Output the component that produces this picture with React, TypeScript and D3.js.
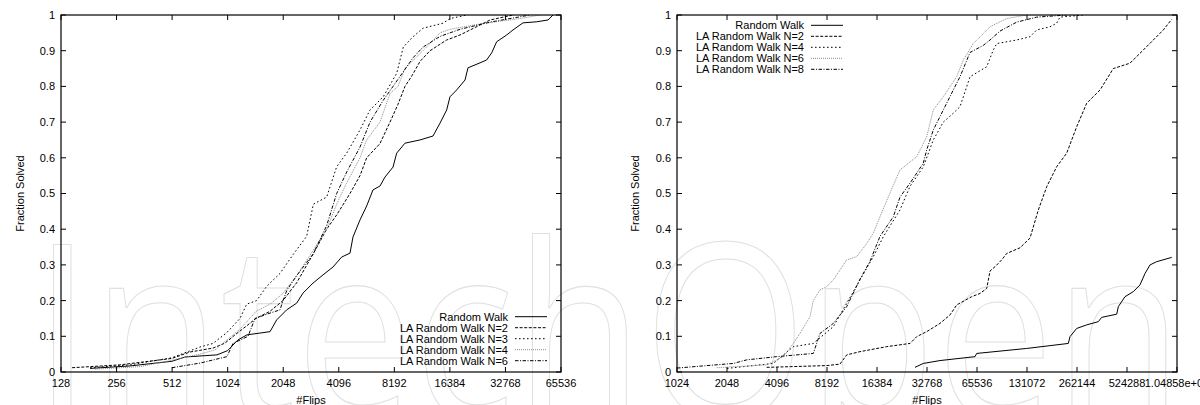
import React from "react";
import * as d3 from "d3";

type Pt = [number, number];

// ---------- axis ticks ----------
const leftTicksX = [128, 256, 512, 1024, 2048, 4096, 8192, 16384, 32768, 65536];
const leftTickLabels = ["128", "256", "512", "1024", "2048", "4096", "8192", "16384", "32768", "65536"];
const rightTicksX = [1024, 2048, 4096, 8192, 16384, 32768, 65536, 131072, 262144, 524288, 1048576];
const rightTickLabels = ["1024", "2048", "4096", "8192", "16384", "32768", "65536", "131072", "262144", "524288", "1.04858e+06"];
const yTicks = [0, 0.1, 0.2, 0.3, 0.4, 0.5, 0.6, 0.7, 0.8, 0.9, 1];
const yTickLabels = ["0", "0.1", "0.2", "0.3", "0.4", "0.5", "0.6", "0.7", "0.8", "0.9", "1"];

const leftNames = ["Random Walk", "LA Random Walk N=2", "LA Random Walk N=3", "LA Random Walk N=4", "LA Random Walk N=6"];
const rightNames = ["Random Walk", "LA Random Walk N=2", "LA Random Walk N=4", "LA Random Walk N=6", "LA Random Walk N=8"];

// ---------- left panel data: [flips, fraction solved] ----------
const leftRandomWalk: Pt[] = [
  [184, 0.01], [303, 0.017], [511, 0.03], [601, 0.042], [896, 0.048], [1024, 0.06], [1165, 0.09], [1303, 0.104],
  [1737, 0.113], [1888, 0.146], [2138, 0.174], [2423, 0.193], [2621, 0.221], [2970, 0.249], [3364, 0.272],
  [3810, 0.294], [4247, 0.322], [4711, 0.333], [4890, 0.378], [5338, 0.426], [5800, 0.465], [6276, 0.51],
  [6850, 0.521], [7291, 0.546], [8058, 0.574], [8436, 0.613], [9357, 0.641], [11286, 0.65], [13270, 0.661],
  [14480, 0.697], [15740, 0.734], [16406, 0.771], [17830, 0.79], [19790, 0.818], [20530, 0.852], [23860, 0.866],
  [25920, 0.874], [27600, 0.894], [29370, 0.925], [33270, 0.944], [36000, 0.958], [40790, 0.978], [48380, 0.981],
  [55730, 0.986], [59310, 1.0],
];
const leftN2: Pt[] = [
  [147, 0.012], [267, 0.02], [511, 0.038], [640, 0.056], [853, 0.067], [991, 0.081], [1122, 0.104], [1303, 0.13],
  [1458, 0.15], [1737, 0.17], [2043, 0.2], [2423, 0.25], [2970, 0.33], [3521, 0.4], [3990, 0.44], [4711, 0.5],
  [5338, 0.55], [5800, 0.6], [6850, 0.64], [7760, 0.7], [8576, 0.75], [9357, 0.8], [10210, 0.83], [11286, 0.87],
  [12790, 0.9], [15740, 0.93], [18590, 0.944], [21060, 0.958], [23860, 0.972], [27030, 0.986], [36000, 1.0],
];
const leftN3: Pt[] = [
  [184, 0.012], [303, 0.02], [511, 0.04], [725, 0.07], [853, 0.08], [1011, 0.11], [1194, 0.15], [1298, 0.19],
  [1470, 0.2], [1666, 0.24], [1967, 0.276], [2323, 0.33], [2744, 0.38], [2982, 0.47], [3521, 0.49], [3990, 0.575],
  [4520, 0.613], [5338, 0.678], [6047, 0.734], [7136, 0.771], [8436, 0.837], [9160, 0.91], [10340, 0.939],
  [11712, 0.963], [15030, 0.977], [16406, 0.99], [20290, 1.0],
];
const leftN4: Pt[] = [
  [196, 0.008], [343, 0.015], [511, 0.033], [725, 0.05], [874, 0.062], [1015, 0.09], [1194, 0.12], [1458, 0.17],
  [1737, 0.19], [2043, 0.22], [2423, 0.27], [2970, 0.34], [3521, 0.4], [3990, 0.47], [4520, 0.53], [5338, 0.6],
  [5800, 0.65], [6850, 0.7], [7760, 0.78], [8576, 0.8], [9357, 0.85], [10210, 0.87], [11712, 0.9], [14480, 0.95],
  [16406, 0.96], [23860, 0.975], [39300, 0.99], [50430, 1.0],
];
const leftN6: Pt[] = [
  [511, 0.012], [725, 0.025], [1015, 0.043], [1094, 0.08], [1320, 0.1], [1440, 0.15], [1737, 0.165], [1967, 0.174],
  [2043, 0.2], [2147, 0.23], [2423, 0.27], [2970, 0.33], [3521, 0.41], [3990, 0.5], [4520, 0.56], [5338, 0.63],
  [6047, 0.7], [7110, 0.76], [8058, 0.8], [9130, 0.84], [10340, 0.88], [11712, 0.91], [14480, 0.94], [18590, 0.96],
  [27030, 0.98], [34690, 0.99], [44520, 1.0],
];

// ---------- right panel data ----------
const rightRandomWalk: Pt[] = [
  [27750, 0.013], [31130, 0.024], [39230, 0.032], [63740, 0.043], [65260, 0.052], [130530, 0.066], [232400, 0.08],
  [237900, 0.099], [261050, 0.122], [299900, 0.132], [352300, 0.141], [369100, 0.153], [454500, 0.162],
  [464800, 0.183], [509900, 0.211], [572000, 0.225], [627600, 0.244], [673200, 0.276], [721400, 0.3],
  [791200, 0.309], [974500, 0.321],
];
const rightN2: Pt[] = [
  [3550, 0.013], [8192, 0.018], [9800, 0.022], [10770, 0.048], [12950, 0.057], [18750, 0.071], [25900, 0.08],
  [28410, 0.099], [32600, 0.113], [39200, 0.136], [45100, 0.16], [49500, 0.188], [60900, 0.211], [68300, 0.22],
  [75000, 0.234], [78500, 0.283], [84150, 0.295], [92300, 0.314], [98900, 0.332], [119000, 0.348],
  [136600, 0.375], [153400, 0.454], [172300, 0.519], [197800, 0.575], [227300, 0.613], [261000, 0.687],
  [300000, 0.753], [360700, 0.79], [433600, 0.85], [546400, 0.865], [657400, 0.902], [755000, 0.93],
  [867200, 0.958], [974500, 0.988],
];
const rightN4: Pt[] = [
  [2048, 0.01], [2567, 0.015], [3891, 0.024], [5135, 0.071], [6775, 0.08], [8940, 0.127], [10766, 0.192],
  [12945, 0.258], [15565, 0.323], [17880, 0.379], [22530, 0.454], [25890, 0.52], [31130, 0.575], [35760, 0.65],
  [41070, 0.7], [47190, 0.725], [51770, 0.743], [59470, 0.827], [74960, 0.855], [82150, 0.902], [86100, 0.92],
  [113630, 0.93], [136600, 0.939], [149900, 0.958], [180300, 0.967], [197800, 0.977], [207100, 0.994],
  [284900, 1.0],
];
const rightN6: Pt[] = [
  [1776, 0.012], [3551, 0.02], [4470, 0.043], [5135, 0.08], [5633, 0.108], [6472, 0.155], [6775, 0.2],
  [7434, 0.23], [8158, 0.239], [8940, 0.258], [9808, 0.286], [10766, 0.314], [12360, 0.323], [14200, 0.36],
  [15565, 0.389], [17080, 0.435], [18750, 0.48], [22530, 0.566], [28410, 0.603], [32630, 0.659], [35760, 0.734],
  [41070, 0.771], [49450, 0.827], [54200, 0.874], [62260, 0.92], [78480, 0.967], [98900, 0.99], [130530, 1.0],
];
const rightN8: Pt[] = [
  [1024, 0.011], [2235, 0.024], [2691, 0.034], [4079, 0.043], [6775, 0.052], [7434, 0.108], [8940, 0.136],
  [10766, 0.183], [12945, 0.26], [14870, 0.31], [17080, 0.38], [20540, 0.435], [22530, 0.49], [25890, 0.529],
  [31130, 0.585], [32630, 0.622], [35760, 0.678], [41070, 0.734], [47190, 0.79], [51770, 0.827], [59470, 0.895],
  [71530, 0.915], [78480, 0.93], [90150, 0.955], [113630, 0.98], [149900, 0.994], [227300, 1.0],
];

const leftSeries = [leftRandomWalk, leftN2, leftN3, leftN4, leftN6];
const rightSeries = [rightRandomWalk, rightN2, rightN4, rightN6, rightN8];

// gnuplot-like monochrome line types
const styles = [
  { stroke: "#000", dash: undefined as string | undefined },
  { stroke: "#000", dash: "3,1.6" },
  { stroke: "#000", dash: "1.6,2.4" },
  { stroke: "#8a8a8a", dash: "1,1" },
  { stroke: "#000", dash: "3.5,1.5,1,1.5" },
];

const FONT = "'Liberation Sans', Arial, Helvetica, sans-serif";
const Y_TOP = 15;
const Y_BOT = 372;

type PanelProps = {
  id: string;
  x0: number;
  x1: number;
  domain: [number, number];
  ticks: number[];
  tickLabels: string[];
  series: Pt[][];
  names: string[];
  legendX: number;
  legendY: number;
  yLabelX: number;
};

function Panel(p: PanelProps) {
  const x = d3.scaleLog().base(2).domain(p.domain).range([p.x0, p.x1]);
  const y = d3.scaleLinear().domain([0, 1]).range([Y_BOT, Y_TOP]);
  const line = d3
    .line<Pt>()
    .x((d) => x(d[0]))
    .y((d) => y(d[1]));
  const T = 5;
  return (
    <g>
      <defs>
        <clipPath id={p.id}>
          <rect x={p.x0} y={Y_TOP} width={p.x1 - p.x0} height={Y_BOT - Y_TOP} />
        </clipPath>
      </defs>
      <g clipPath={`url(#${p.id})`}>
        {p.series.map((s, i) => (
          <path
            key={i}
            d={line(s) || ""}
            fill="none"
            stroke={styles[i].stroke}
            strokeWidth={1}
            strokeDasharray={styles[i].dash}
          />
        ))}
      </g>
      {p.ticks.map((t, i) => (
        <g key={"xt" + i}>
          <line x1={x(t)} x2={x(t)} y1={Y_BOT} y2={Y_BOT - T} stroke="#000" />
          <line x1={x(t)} x2={x(t)} y1={Y_TOP} y2={Y_TOP + T} stroke="#000" />
          <text x={x(t)} y={387} textAnchor="middle" fontSize={11} fontFamily={FONT} fill="#000">
            {p.tickLabels[i]}
          </text>
        </g>
      ))}
      {yTicks.map((t, i) => (
        <g key={"yt" + i}>
          <line x1={p.x0} x2={p.x0 + T} y1={y(t)} y2={y(t)} stroke="#000" />
          <line x1={p.x1} x2={p.x1 - T} y1={y(t)} y2={y(t)} stroke="#000" />
          <text x={p.x0 - 6} y={y(t)} dy="0.36em" textAnchor="end" fontSize={11} fontFamily={FONT} fill="#000">
            {yTickLabels[i]}
          </text>
        </g>
      ))}
      <rect x={p.x0} y={Y_TOP} width={p.x1 - p.x0} height={Y_BOT - Y_TOP} fill="none" stroke="#000" strokeWidth={1.2} />
      {p.names.map((n, i) => {
        const cy = p.legendY + i * 11;
        return (
          <g key={"lg" + i}>
            <text x={p.legendX} y={cy} dy="0.36em" textAnchor="end" fontSize={11} fontFamily={FONT} fill="#000">
              {n}
            </text>
            <line
              x1={p.legendX + 7}
              x2={p.legendX + 39}
              y1={cy}
              y2={cy}
              stroke={styles[i].stroke}
              strokeWidth={1}
              strokeDasharray={styles[i].dash}
            />
          </g>
        );
      })}
      <text
        transform={`translate(${p.yLabelX},${(Y_TOP + Y_BOT) / 2}) rotate(-90)`}
        textAnchor="middle"
        fontSize={11}
        fontFamily={FONT}
        fill="#000"
      >
        Fraction Solved
      </text>
      <text x={(p.x0 + p.x1) / 2} y={404} textAnchor="middle" fontSize={11} fontFamily={FONT} fill="#000">
        #Flips
      </text>
    </g>
  );
}

export default function App() {
  return (
    <svg
      width={1200}
      height={405}
      style={{ position: "absolute", left: 0, top: 0, background: "#fff" }}
    >
      <rect x={0} y={0} width={1200} height={405} fill="#fff" />
      <text
        x={33}
        y={420}
        fontSize={245}
        fontFamily="'Open Sans', 'DejaVu Sans', sans-serif"
        fill="none"
        stroke="#e0e0e0"
        strokeWidth={1.1}
        textLength={1150}
        lengthAdjust="spacingAndGlyphs"
      >
        IntechOpen
      </text>
      <Panel
        id="clipL"
        x0={61}
        x1={561}
        domain={[128, 65536]}
        ticks={leftTicksX}
        tickLabels={leftTickLabels}
        series={leftSeries}
        names={leftNames}
        legendX={508}
        legendY={316.7}
        yLabelX={24}
      />
      <Panel
        id="clipR"
        x0={677}
        x1={1177}
        domain={[1024, 1048576]}
        ticks={rightTicksX}
        tickLabels={rightTickLabels}
        series={rightSeries}
        names={rightNames}
        legendX={804}
        legendY={25.3}
        yLabelX={639}
      />
    </svg>
  );
}
